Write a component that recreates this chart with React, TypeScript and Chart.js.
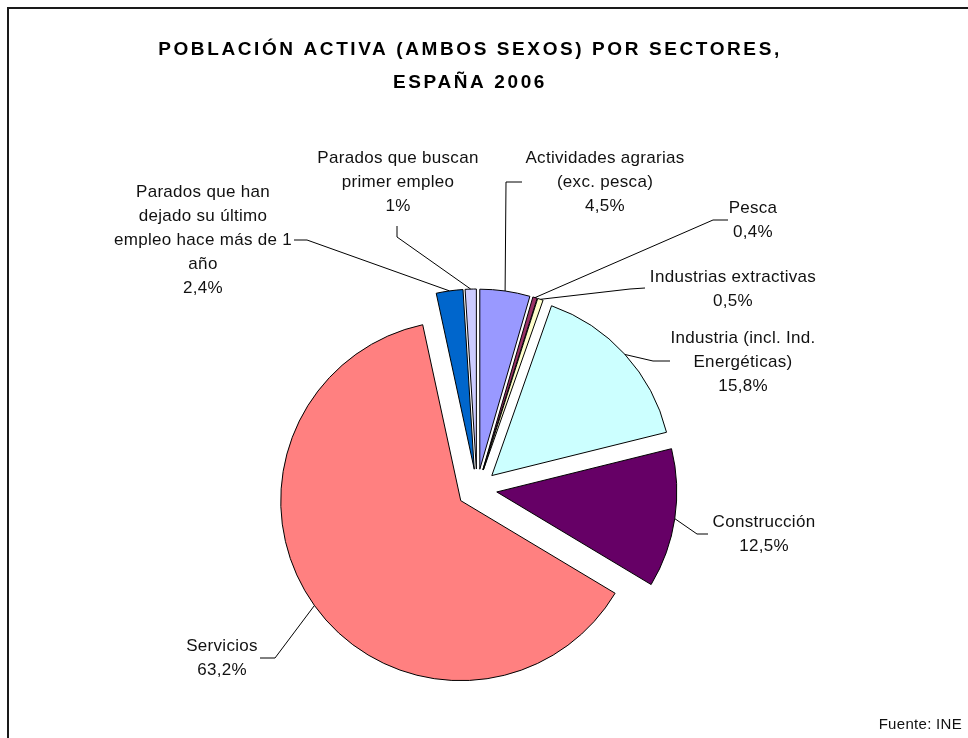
import React, { useEffect, useRef } from "react";
import { Chart, PieController, ArcElement } from "chart.js";

Chart.register(PieController, ArcElement);

// ---- data ----
const categories: string[][] = [
  ["Actividades agrarias", "(exc. pesca)"],
  ["Pesca"],
  ["Industrias extractivas"],
  ["Industria (incl. Ind.", "Energéticas)"],
  ["Construcción"],
  ["Servicios"],
  ["Parados que han", "dejado su último", "empleo hace más de 1", "año"],
  ["Parados que buscan", "primer empleo"],
];
const values: number[] = [4.5, 0.4, 0.5, 15.8, 12.5, 63.2, 2.4, 1];
const colors: string[] = [
  "#9999FF",
  "#993366",
  "#FFFFCC",
  "#CCFFFF",
  "#660066",
  "#FF8080",
  "#0066CC",
  "#CCCCFF",
];
const titleLines: string[] = [
  "POBLACIÓN ACTIVA (AMBOS SEXOS) POR SECTORES,",
  "ESPAÑA 2006",
];
const sourceText = "Fuente: INE";

// ---- layout (label placement, not data) ----
const W = 968;
const H = 738;
const EXPLODE = 20;
const RADIUS = 180;
const LINE_H = 24;
const FONT = '"Liberation Sans", Arial, sans-serif';

type LabelPos = { x: number; y: number; end: [number, number]; elbow: [number, number] };
const labelLayout: LabelPos[] = [
  { x: 605, y: 158, end: [522, 182], elbow: [506, 182] },
  { x: 753, y: 208, end: [728, 220], elbow: [713, 220] },
  { x: 733, y: 277, end: [645, 288], elbow: [630, 289] },
  { x: 743, y: 338, end: [670, 361], elbow: [653, 361] },
  { x: 764, y: 522, end: [708, 534], elbow: [697, 534] },
  { x: 222, y: 646, end: [260, 658], elbow: [275, 658] },
  { x: 203, y: 192, end: [294, 240], elbow: [307, 240] },
  { x: 398, y: 158, end: [397, 226], elbow: [397, 237] },
];

const fmt = (v: number) => String(v).replace(".", ",") + "%";

const explodePlugin = {
  id: "explodeSlices",
  afterDatasetUpdate(_chart: any, args: any) {
    args.meta.data.forEach((arc: any) => {
      const mid = (arc.startAngle + arc.endAngle) / 2;
      arc.x += Math.cos(mid) * EXPLODE;
      arc.y += Math.sin(mid) * EXPLODE;
    });
  },
};

const decorPlugin = {
  id: "decor",
  beforeDraw(chart: any) {
    const ctx: CanvasRenderingContext2D = chart.ctx;
    ctx.save();
    ctx.fillStyle = "#ffffff";
    ctx.fillRect(0, 0, W, H);
    ctx.strokeStyle = "#1a1a1a";
    ctx.lineWidth = 2;
    ctx.strokeRect(8, 8, W + 40, H + 40);
    ctx.restore();
  },
  afterDraw(chart: any) {
    const ctx: any = chart.ctx;
    const meta = chart.getDatasetMeta(0);
    ctx.save();
    // title
    ctx.fillStyle = "#000";
    ctx.textAlign = "center";
    ctx.textBaseline = "middle";
    ctx.font = `bold 19px ${FONT}`;
    ctx.letterSpacing = "2.6px";
    titleLines.forEach((t, k) => ctx.fillText(t, 470, 50 + k * 33));

    // labels + leader lines
    ctx.letterSpacing = "0.3px";
    ctx.font = `17px ${FONT}`;
    ctx.strokeStyle = "#000";
    ctx.lineWidth = 1;
    meta.data.forEach((arc: any, i: number) => {
      const mid = (arc.startAngle + arc.endAngle) / 2;
      const R = arc.outerRadius;
      const ex = arc.x + Math.cos(mid) * R;
      const ey = arc.y + Math.sin(mid) * R;
      const L = labelLayout[i];
      ctx.beginPath();
      ctx.moveTo(L.end[0], L.end[1]);
      ctx.lineTo(L.elbow[0], L.elbow[1]);
      ctx.lineTo(ex, ey);
      ctx.stroke();
      const lines = [...categories[i], fmt(values[i])];
      ctx.fillStyle = "#111";
      lines.forEach((t, k) => ctx.fillText(t, L.x, L.y + k * LINE_H));
    });

    // source
    ctx.textAlign = "right";
    ctx.font = `15px ${FONT}`;
    ctx.letterSpacing = "0.3px";
    ctx.fillText(sourceText, 962, 725);
    ctx.restore();
  },
};

export default function App() {
  const ref = useRef<HTMLCanvasElement | null>(null);
  useEffect(() => {
    if (!ref.current) return;
    const chart = new Chart(ref.current, {
      type: "pie",
      data: {
        labels: categories.map((c) => c.join(" ")),
        datasets: [
          {
            data: values,
            backgroundColor: colors,
            borderColor: "#000000",
            borderWidth: 1,
            radius: RADIUS,
          } as any,
        ],
      },
      options: {
        responsive: false,
        animation: false,
        events: [],
        radius: RADIUS,
        layout: { padding: { left: 0, right: 14, top: 240, bottom: 0 } },
        plugins: { legend: { display: false }, tooltip: { enabled: false } },
      } as any,
      plugins: [explodePlugin, decorPlugin],
    });
    return () => chart.destroy();
  }, []);
  return (
    <div style={{ position: "absolute", left: 0, top: 0, width: W, height: H, background: "#fff" }}>
      <canvas ref={ref} width={W} height={H} style={{ display: "block", width: W, height: H }} />
    </div>
  );
}
